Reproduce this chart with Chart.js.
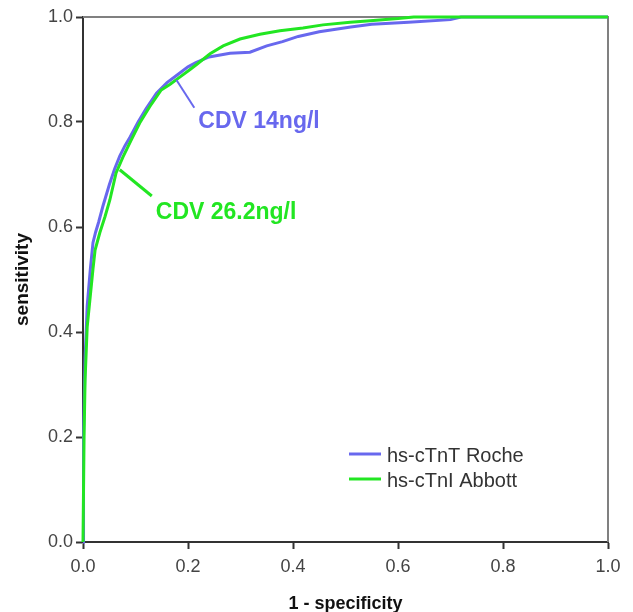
<!DOCTYPE html>
<html>
<head>
<meta charset="utf-8">
<script src="https://cdn.jsdelivr.net/npm/chart.js@4.4.1/dist/chart.umd.min.js"></script>
<style>
  html, body { margin: 0; padding: 0; background: #fff; }
  #wrap { width: 633px; height: 612px; }
</style>
</head>
<body>
<div id="wrap"><canvas id="roc"></canvas></div>
<script>
// ROC curves, values
const rocheFpr  = [0, 0.001, 0.004, 0.008, 0.014, 0.019, 0.024, 0.03, 0.038, 0.05, 0.06, 0.07, 0.08, 0.09, 0.105, 0.12, 0.14, 0.16, 0.18, 0.2, 0.215, 0.24, 0.28, 0.318, 0.35, 0.38, 0.41, 0.45, 0.51, 0.55, 0.62, 0.7, 0.72, 1.0];
const rocheSens = [0, 0.2, 0.35, 0.45, 0.52, 0.57, 0.59, 0.61, 0.64, 0.68, 0.71, 0.735, 0.755, 0.772, 0.8, 0.825, 0.855, 0.875, 0.89, 0.905, 0.913, 0.924, 0.931, 0.933, 0.945, 0.953, 0.963, 0.972, 0.981, 0.986, 0.99, 0.995, 1.0, 1.0];

const abbottFpr  = [0, 0.002, 0.004, 0.008, 0.014, 0.019, 0.023, 0.032, 0.042, 0.051, 0.063, 0.076, 0.092, 0.108, 0.127, 0.149, 0.166, 0.185, 0.204, 0.217, 0.242, 0.267, 0.299, 0.337, 0.375, 0.419, 0.457, 0.509, 0.547, 0.6, 0.63, 1.0];
const abbottSens = [0, 0.2, 0.31, 0.41, 0.47, 0.52, 0.556, 0.589, 0.62, 0.651, 0.703, 0.733, 0.766, 0.798, 0.829, 0.861, 0.872, 0.886, 0.9, 0.91, 0.93, 0.945, 0.958, 0.967, 0.974, 0.979, 0.985, 0.99, 0.993, 0.997, 1.0, 1.0];

const axisTicks = [0, 0.2, 0.4, 0.6, 0.8, 1.0];

const seriesNames = ['hs-cTnT Roche', 'hs-cTnI Abbott'];
const seriesColors = ['#6868ee', '#22e622'];

// cut-off annotations: [pointer start x, y, pointer end x, y, label]
const rocheCutoff  = [0.178, 0.88, 0.212, 0.827, 'CDV 14ng/l'];
const abbottCutoff = [0.070, 0.709, 0.131, 0.659, 'CDV 26.2ng/l'];

const FONT = "'Liberation Sans', Arial, sans-serif";

const toPoints = (xs, ys) => xs.map((x, i) => ({ x: x, y: ys[i] }));

// gray top/right frame under the curves
const framePlugin = {
  id: 'frame',
  beforeDatasetsDraw(chart) {
    const { ctx, chartArea: a } = chart;
    ctx.save();
    ctx.strokeStyle = '#808080';
    ctx.lineWidth = 2;
    ctx.beginPath();
    ctx.moveTo(a.left, a.top);
    ctx.lineTo(a.right, a.top);
    ctx.lineTo(a.right, a.bottom);
    ctx.stroke();
    ctx.restore();
  }
};

// pointers, cut-off labels and legend
const notesPlugin = {
  id: 'notes',
  afterDatasetsDraw(chart) {
    const { ctx, chartArea: a } = chart;
    const xs = chart.scales.x, ys = chart.scales.y;
    const drawCutoff = (c, color, width, dy) => {
      const x0 = xs.getPixelForValue(c[0]), y0 = ys.getPixelForValue(c[1]);
      const x1 = xs.getPixelForValue(c[2]), y1 = ys.getPixelForValue(c[3]);
      ctx.strokeStyle = color;
      ctx.lineWidth = width;
      ctx.beginPath();
      ctx.moveTo(x0, y0);
      ctx.lineTo(x1, y1);
      ctx.stroke();
      ctx.fillStyle = color;
      ctx.font = 'bold 23px ' + FONT;
      ctx.textBaseline = 'middle';
      ctx.textAlign = 'left';
      ctx.fillText(c[4], x1 + 4, y1 + dy);
    };
    ctx.save();
    drawCutoff(rocheCutoff, seriesColors[0], 2, 14);
    drawCutoff(abbottCutoff, seriesColors[1], 3, 17);

    // legend
    const lx = a.left + 266, ly = a.top + 437;
    ctx.font = '20px ' + FONT;
    ctx.textBaseline = 'middle';
    chart.data.datasets.forEach((ds, i) => {
      const y = ly + i * 25;
      ctx.strokeStyle = ds.borderColor;
      ctx.lineWidth = 3;
      ctx.beginPath();
      ctx.moveTo(lx, y);
      ctx.lineTo(lx + 32, y);
      ctx.stroke();
      ctx.fillStyle = '#333';
      ctx.fillText(ds.label, lx + 38, y + 2);
    });
    ctx.restore();
  }
};

const axisBase = {
  type: 'linear',
  min: 0,
  max: 1,
  afterBuildTicks: (scale) => { scale.ticks = axisTicks.map(v => ({ value: v })); },
  grid: {
    drawOnChartArea: false,
    drawTicks: true,
    tickLength: 7,
    tickWidth: 2,
    tickColor: '#333'
  },
  border: { color: '#333', width: 2 }
};

new Chart(document.getElementById('roc'), {
  type: 'scatter',
  data: {
    datasets: [
      {
        label: seriesNames[0],
        data: toPoints(rocheFpr, rocheSens),
        showLine: true,
        borderColor: seriesColors[0],
        backgroundColor: seriesColors[0],
        borderWidth: 3,
        pointRadius: 0,
        tension: 0,
        clip: 4,
        order: 2
      },
      {
        label: seriesNames[1],
        data: toPoints(abbottFpr, abbottSens),
        showLine: true,
        borderColor: seriesColors[1],
        backgroundColor: seriesColors[1],
        borderWidth: 3,
        pointRadius: 0,
        tension: 0,
        clip: 4,
        order: 1
      }
    ]
  },
  options: {
    responsive: true,
    maintainAspectRatio: false,
    animation: false,
    layout: { padding: { top: 17, right: 25, left: 0, bottom: 0 } },
    plugins: {
      legend: { display: false },
      tooltip: { enabled: false }
    },
    scales: {
      x: {
        ...axisBase,
        position: 'bottom',
        afterFit: (scale) => { scale.height = 70; },
        ticks: {
          color: '#444',
          font: { family: FONT, size: 18 },
          padding: 7,
          maxRotation: 0,
          callback: (v) => Number(v).toFixed(1)
        },
        title: {
          display: true,
          text: '1 - specificity',
          color: '#111',
          font: { family: FONT, size: 18, weight: 'bold' },
          padding: { top: 4, bottom: -3 }
        }
      },
      y: {
        ...axisBase,
        position: 'left',
        afterFit: (scale) => { scale.width = 83; },
        ticks: {
          color: '#444',
          font: { family: FONT, size: 18 },
          padding: 3,
          callback: (v) => Number(v).toFixed(1)
        },
        title: {
          display: true,
          text: 'sensitivity',
          color: '#111',
          font: { family: FONT, size: 19, weight: 'bold' },
          padding: { top: 11, bottom: 0 }
        }
      }
    }
  },
  plugins: [framePlugin, notesPlugin]
});
</script>
</body>
</html>
